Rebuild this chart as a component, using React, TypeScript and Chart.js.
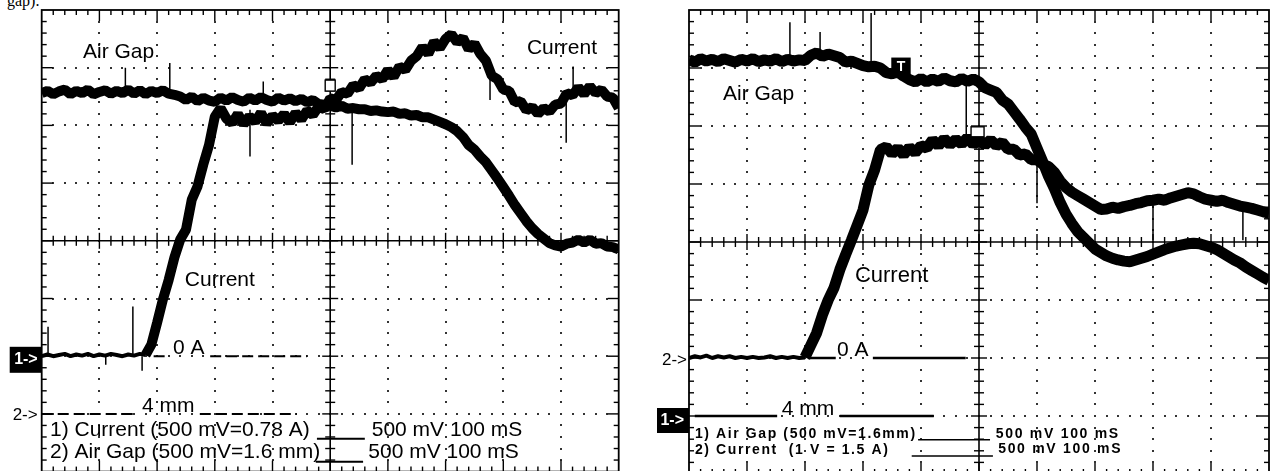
import React, { useEffect, useRef } from "react";
import { Chart, registerables } from "chart.js";

Chart.register(...registerables);

// sampling grid of the oscilloscope record (100 mS / division, 10 divisions)
const TIME_MS = Array.from({ length: 101 }, (_, i) => i * 10);

// values in screen divisions (centre line = 0, +4 top, -4 bottom)
const LEFT_AIR_GAP = [
  2.56, 2.6, 2.54, 2.59, 2.62, 2.54, 2.6, 2.56, 2.62, 2.54,
  2.58, 2.61, 2.55, 2.6, 2.56, 2.62, 2.55, 2.61, 2.54, 2.6,
  2.56, 2.61, 2.55, 2.53, 2.5, 2.44, 2.5, 2.42, 2.48, 2.43,
  2.41, 2.48, 2.43, 2.49, 2.44, 2.41, 2.48, 2.43, 2.49, 2.44,
  2.41, 2.48, 2.43, 2.47, 2.42, 2.46, 2.4, 2.44, 2.37, 2.36,
  2.34, 2.31, 2.34, 2.29, 2.3, 2.28, 2.28, 2.25, 2.26, 2.24,
  2.23, 2.24, 2.2, 2.21, 2.17, 2.18, 2.14, 2.14, 2.1, 2.06,
  2.02, 1.97, 1.9, 1.8, 1.66, 1.58, 1.46, 1.36, 1.22, 1.08,
  0.93, 0.78, 0.62, 0.48, 0.34, 0.22, 0.12, 0.04, -0.04, -0.08,
  -0.1, -0.05, -0.03, 0.02, -0.03, 0.02, -0.05, -0.04, -0.1, -0.11,
  -0.15,
];

const LEFT_CURRENT = [
  -2.0, -1.97, -2.0, -1.98, -1.96, -2.0, -1.97, -1.99, -1.96, -2.0,
  -1.97, -1.99, -1.96, -1.98, -2.0, -1.97, -1.99, -1.96, -1.98, -1.8,
  -1.42, -1.02, -0.68, -0.29, 0.02, 0.19, 0.71, 0.94, 1.32, 1.66,
  2.15, 2.3, 2.12, 2.04, 2.2, 2.02, 2.16, 2.06, 2.22, 2.03,
  2.17, 2.08, 2.2, 2.05, 2.22, 2.1, 2.26, 2.18, 2.33, 2.28,
  2.47, 2.44, 2.58, 2.55, 2.7, 2.64, 2.8, 2.74, 2.86, 2.8,
  2.96, 2.84, 3.02, 2.96, 3.12, 3.2, 3.36, 3.24, 3.45, 3.34,
  3.5, 3.58, 3.44, 3.52, 3.32, 3.42, 3.24, 3.12, 2.86, 2.8,
  2.62, 2.6, 2.4, 2.42, 2.26, 2.32, 2.2, 2.3, 2.24, 2.36,
  2.38, 2.56, 2.52, 2.66, 2.54, 2.68, 2.56, 2.62, 2.5, 2.48,
  2.3,
];

const RIGHT_AIR_GAP = [
  3.14, 3.1, 3.16, 3.12, 3.15, 3.11, 3.16, 3.13, 3.1, 3.15,
  3.12, 3.16, 3.11, 3.14, 3.12, 3.16, 3.11, 3.15, 3.12, 3.14,
  3.13, 3.22, 3.26, 3.2, 3.24, 3.21, 3.18, 3.1, 3.12, 3.08,
  3.04, 3.02, 3.03, 3.0, 2.92, 2.9, 2.93, 2.86, 2.8, 2.76,
  2.82, 2.76, 2.81, 2.77, 2.83, 2.78, 2.76, 2.82, 2.77, 2.81,
  2.76, 2.66, 2.62, 2.58, 2.45, 2.38, 2.25, 2.12, 1.98, 1.86,
  1.62, 1.38, 1.13, 0.92, 0.68, 0.48, 0.32, 0.18, 0.08, -0.02,
  -0.12, -0.18, -0.24, -0.28, -0.31, -0.33, -0.34, -0.31, -0.28, -0.25,
  -0.21, -0.17, -0.13, -0.1, -0.07, -0.05, -0.03, -0.02, -0.03, -0.06,
  -0.09, -0.13, -0.19, -0.25, -0.31, -0.36, -0.43, -0.49, -0.55, -0.61,
  -0.66,
];

const RIGHT_CURRENT = [
  -2.0, -1.97, -1.99, -1.96, -2.0, -1.97, -1.99, -1.97, -2.0, -1.98,
  -2.0, -1.98, -2.0, -1.99, -1.97, -2.0, -1.98, -2.0, -1.98, -2.0,
  -1.99, -1.78, -1.57, -1.26, -1.0, -0.79, -0.48, -0.22, 0.03, 0.29,
  0.55, 0.98, 1.24, 1.59, 1.64, 1.52, 1.62, 1.5, 1.63, 1.54,
  1.66, 1.62, 1.76, 1.66, 1.78, 1.68, 1.77, 1.69, 1.8, 1.68,
  1.77, 1.67, 1.76, 1.66, 1.72, 1.6, 1.6, 1.5, 1.52, 1.42,
  1.42, 1.34, 1.3, 1.2, 1.05, 0.94, 0.86, 0.8, 0.74, 0.68,
  0.62, 0.56, 0.57, 0.6, 0.58, 0.61, 0.63, 0.66, 0.68, 0.71,
  0.72, 0.74, 0.72, 0.76, 0.79, 0.82, 0.85, 0.83, 0.78, 0.74,
  0.72, 0.7, 0.72, 0.68, 0.65, 0.62, 0.6, 0.58, 0.55, 0.52,
  0.5,
];

// isolated glitches: [time ms, from div, to div]
const LEFT_SPIKES = [
  [145, 2.56, 3.0], [222, 2.56, 3.08], [361, 2.27, 1.46], [384, 2.45, 2.76],
  [538, 2.3, 1.32], [777, 2.9, 2.44], [909, 2.6, 1.7], [921, 2.62, 3.02],
  [11, -2.0, -1.49], [158, -2.0, -1.14], [174, -2.0, -2.25], [111, -2.0, -2.15],
];
const RIGHT_SPIKES = [
  [174, 3.14, 3.79], [314, 3.04, 3.95], [226, 3.24, 3.62], [478, 2.79, 1.76],
  [600, 1.4, 0.67], [800, 0.72, 0.03], [955, 0.62, 0.03],
];

const FONT = '"Liberation Sans", Arial, Helvetica, sans-serif';

type Label = { text: string; t: number; d: number; size: number; bold?: boolean; spacing?: number };
type Seg = { t0: number; t1: number; d: number; width: number; dash?: number[] };
type Marker = { text: string; d: number; dy: number; boxed: boolean; size: number; bold?: boolean; w?: number; h?: number; inset: number };
type Box = { t: number; d: number; w: number; h: number; fill: string; text?: string };
type ScopeCfg = { id: string; labels: Label[]; segs: Seg[]; markers: Marker[]; boxes: Box[] };

const LEFT_CFG: ScopeCfg = {
  id: "left",
  labels: [
    { text: "Air Gap", t: 71.6, d: 3.27, size: 21 },
    { text: "Current", t: 841, d: 3.33, size: 21 },
    { text: "Current", t: 248, d: -0.68, size: 21 },
    { text: "0 A", t: 227.5, d: -1.86, size: 21 },
    { text: "4 mm", t: 174, d: -2.87, size: 21 },
    { text: "1) Current (500 mV=0.78 A)", t: 14.4, d: -3.29, size: 21 },
    { text: "2) Air Gap (500 mV=1.6 mm)", t: 14.4, d: -3.66, size: 21 },
    { text: "500 mV 100 mS", t: 572, d: -3.29, size: 21 },
    { text: "500 mV 100 mS", t: 566, d: -3.66, size: 21 },
  ],
  segs: [
    { t0: 194, t1: 222, d: -2, width: 2, dash: [11, 5] },
    { t0: 292, t1: 460, d: -2, width: 2, dash: [11, 5] },
    { t0: 0, t1: 165, d: -3, width: 2, dash: [11, 5] },
    { t0: 274, t1: 442, d: -3, width: 2, dash: [11, 5] },
    { t0: 477, t1: 560, d: -3.43, width: 2 },
    { t0: 475, t1: 557, d: -3.83, width: 2 },
  ],
  markers: [
    { text: "1->", d: -2, dy: 3.6, boxed: true, size: 16, bold: true, w: 32, h: 26, inset: 4 },
    { text: "2->", d: -3, dy: 1, boxed: false, size: 17, inset: 4 },
  ],
  boxes: [{ t: 500, d: 2.69, w: 10, h: 11, fill: "#fff" }],
};

const RIGHT_CFG: ScopeCfg = {
  id: "right",
  labels: [
    { text: "Air Gap", t: 58.6, d: 2.54, size: 21 },
    { text: "Current", t: 286, d: -0.59, size: 22 },
    { text: "0 A", t: 255, d: -1.86, size: 21 },
    { text: "4 mm", t: 160, d: -2.88, size: 21 },
    { text: "1) Air Gap (500 mV=1.6mm)", t: 10.3, d: -3.31, size: 14, bold: true, spacing: 1.6 },
    { text: "2) Current  (1 V = 1.5 A)", t: 10.3, d: -3.59, size: 14, bold: true, spacing: 1.6 },
    { text: "500 mV 100 mS", t: 529, d: -3.31, size: 14, bold: true, spacing: 1.7 },
    { text: "500 mV 100 mS", t: 533, d: -3.58, size: 14, bold: true, spacing: 1.7 },
  ],
  segs: [
    { t0: 205, t1: 253, d: -2, width: 2.5 },
    { t0: 317, t1: 477, d: -2, width: 2.5 },
    { t0: 10, t1: 152, d: -3, width: 2.5 },
    { t0: 260, t1: 422, d: -3, width: 2.5 },
    { t0: 395, t1: 519, d: -3.41, width: 1.5 },
    { t0: 384, t1: 524, d: -3.69, width: 1.5 },
  ],
  markers: [
    { text: "1->", d: -3, dy: 4.5, boxed: true, size: 16, bold: true, w: 32, h: 25, inset: 5 },
    { text: "2->", d: -2, dy: 2, boxed: false, size: 17, inset: 2 },
  ],
  boxes: [
    { t: 365.5, d: 3.03, w: 18, h: 16, fill: "#000", text: "T" },
    { t: 497.5, d: 1.9, w: 13, h: 10, fill: "#fff" },
  ],
};

function scopePlugin(cfg: ScopeCfg) {
  return {
    id: "scope-" + cfg.id,
    beforeDatasetsDraw(chart: any) {
      const { ctx, chartArea: a, scales } = chart;
      const xs = scales.x;
      const ys = scales.y;
      const line = (x1: number, y1: number, x2: number, y2: number) => {
        ctx.beginPath();
        ctx.moveTo(x1, y1);
        ctx.lineTo(x2, y2);
        ctx.stroke();
      };
      ctx.save();
      ctx.fillStyle = "#333";
      // dotted graticule
      for (let i = 1; i < 10; i++) {
        if (i === 5) continue;
        const X = Math.round(xs.getPixelForValue(i * 100));
        for (let k = 1; k < 40; k++) {
          const Y = Math.round(ys.getPixelForValue(-4 + k * 0.2));
          ctx.fillRect(X - 1, Y - 1, 2, 2);
        }
      }
      for (let j = -3; j <= 3; j++) {
        if (j === 0) continue;
        const Y = Math.round(ys.getPixelForValue(j));
        for (let k = 1; k < 50; k++) {
          const X = Math.round(xs.getPixelForValue(k * 20));
          ctx.fillRect(X - 1, Y - 1, 2, 2);
        }
      }
      ctx.strokeStyle = "#000";
      ctx.lineWidth = 1.6;
      const cx = xs.getPixelForValue(500);
      const cy = ys.getPixelForValue(0);
      line(cx, a.top, cx, a.bottom);
      line(a.left, cy, a.right, cy);
      ctx.lineWidth = 1.4;
      for (let k = 1; k < 40; k++) {
        const Y = ys.getPixelForValue(-4 + k * 0.2);
        const major = k % 5 === 0;
        const len = major ? 8 : 5;
        line(cx - len, Y, cx + len, Y);
        const bl = major ? 11 : 5;
        line(a.left, Y, a.left + bl, Y);
        line(a.right, Y, a.right - bl, Y);
      }
      for (let k = 1; k < 50; k++) {
        const X = xs.getPixelForValue(k * 20);
        const major = k % 5 === 0;
        const len = major ? 8 : 5;
        line(X, cy - len, X, cy + len);
        const bl = major ? 11 : 5;
        line(X, a.top, X, a.top + bl);
        line(X, a.bottom, X, a.bottom - bl);
      }
      ctx.lineWidth = 1.8;
      ctx.strokeRect(a.left, a.top, a.right - a.left, a.bottom - a.top);
      ctx.restore();
    },
    afterDatasetsDraw(chart: any) {
      const { ctx, chartArea: a, scales } = chart;
      const xs = scales.x;
      const ys = scales.y;
      ctx.save();
      ctx.fillStyle = "#000";
      ctx.strokeStyle = "#000";
      for (const s of cfg.segs) {
        ctx.lineWidth = s.width;
        ctx.setLineDash(s.dash || []);
        const Y = ys.getPixelForValue(s.d);
        ctx.beginPath();
        ctx.moveTo(xs.getPixelForValue(s.t0), Y);
        ctx.lineTo(xs.getPixelForValue(s.t1), Y);
        ctx.stroke();
      }
      ctx.setLineDash([]);
      ctx.textAlign = "left";
      ctx.textBaseline = "middle";
      for (const l of cfg.labels) {
        ctx.font = `${l.bold ? "bold " : ""}${l.size}px ${FONT}`;
        (ctx as any).letterSpacing = `${l.spacing || 0}px`;
        ctx.fillText(l.text, xs.getPixelForValue(l.t), ys.getPixelForValue(l.d));
      }
      (ctx as any).letterSpacing = "0px";
      for (const b of cfg.boxes) {
        const X = xs.getPixelForValue(b.t);
        const Y = ys.getPixelForValue(b.d);
        ctx.fillStyle = b.fill;
        ctx.fillRect(X - b.w / 2, Y - b.h / 2, b.w, b.h);
        ctx.lineWidth = 1.4;
        ctx.strokeStyle = "#000";
        ctx.strokeRect(X - b.w / 2, Y - b.h / 2, b.w, b.h);
        if (b.text) {
          ctx.fillStyle = "#fff";
          ctx.font = `bold 14px ${FONT}`;
          ctx.textAlign = "center";
          ctx.fillText(b.text, X, Y + 1);
          ctx.textAlign = "left";
        }
      }
      for (const m of cfg.markers) {
        const Y = ys.getPixelForValue(m.d) + m.dy;
        ctx.font = `${m.bold ? "bold " : ""}${m.size}px ${FONT}`;
        ctx.textAlign = "right";
        if (m.boxed) {
          ctx.fillStyle = "#000";
          ctx.fillRect(a.left - (m.w || 30), Y - (m.h || 24) / 2, m.w || 30, m.h || 24);
          ctx.fillStyle = "#fff";
        } else {
          ctx.fillStyle = "#000";
        }
        ctx.fillText(m.text, a.left - m.inset, Y);
      }
      ctx.restore();
    },
  };
}

const toPts = (vals: number[]) => vals.map((y, i) => ({ x: TIME_MS[i], y }));
const spikePts = (sp: number[][]) =>
  sp.flatMap(([t, a, b]) => [{ x: t, y: a }, { x: t, y: b }, { x: t, y: null as any }]);

const trace = (vals: number[], width: number, thinBase: boolean) => ({
  data: toPts(vals),
  borderColor: "#000",
  borderWidth: width,
  pointRadius: 0,
  tension: 0,
  fill: false,
  borderJoinStyle: "bevel",
  segment: thinBase
    ? { borderWidth: (c: any) => (c.p0.parsed.y < -1.9 && c.p1.parsed.y < -1.9 ? 4 : width) }
    : undefined,
});
const spikes = (sp: number[][]) => ({
  data: spikePts(sp),
  borderColor: "#000",
  borderWidth: 1.5,
  pointRadius: 0,
  spanGaps: false,
  fill: false,
});

type ScopeProps = {
  left: number;
  width: number;
  height: number;
  padding: { left: number; right: number; top: number; bottom: number };
  datasets: any[];
  cfg: ScopeCfg;
};

function Scope({ left, width, height, padding, datasets, cfg }: ScopeProps) {
  const ref = useRef<HTMLCanvasElement>(null);
  useEffect(() => {
    const chart = new Chart(ref.current as HTMLCanvasElement, {
      type: "line",
      data: { datasets },
      options: {
        animation: false,
        responsive: false,
        maintainAspectRatio: false,
        events: [],
        layout: { padding },
        scales: {
          x: { type: "linear", min: 0, max: 1000, display: false },
          y: { type: "linear", min: -4, max: 4, display: false },
        },
        plugins: { legend: { display: false }, tooltip: { enabled: false } },
      },
      plugins: [scopePlugin(cfg) as any],
    } as any);
    return () => chart.destroy();
  }, []);
  return (
    <canvas
      ref={ref}
      width={width}
      height={height}
      style={{ position: "absolute", left, top: 0, width, height }}
    />
  );
}

export default function App() {
  useEffect(() => {
    document.body.style.margin = "0";
  }, []);
  return (
    <div
      style={{
        position: "fixed",
        left: 0,
        top: 0,
        width: 1273,
        height: 471,
        overflow: "hidden",
        background: "#fff",
      }}
    >
      <span
        style={{
          position: "absolute",
          left: 7,
          top: -6.9,
          fontFamily: '"Liberation Serif", "Times New Roman", serif',
          fontSize: 16,
          lineHeight: "16px",
          whiteSpace: "nowrap",
          color: "#000",
        }}
      >
        gap).
      </span>
      <Scope
        left={0}
        width={640}
        height={480}
        padding={{ left: 41.7, top: 10, right: 21.3, bottom: 8.4 }}
        datasets={[
          trace(LEFT_AIR_GAP, 10, false),
          trace(LEFT_CURRENT, 10, true),
          spikes(LEFT_SPIKES),
        ]}
        cfg={LEFT_CFG}
      />
      <Scope
        left={640}
        width={633}
        height={480}
        padding={{ left: 49, top: 10, right: 4, bottom: 6 }}
        datasets={[
          trace(RIGHT_AIR_GAP, 11, false),
          trace(RIGHT_CURRENT, 11, true),
          spikes(RIGHT_SPIKES),
        ]}
        cfg={RIGHT_CFG}
      />
    </div>
  );
}
